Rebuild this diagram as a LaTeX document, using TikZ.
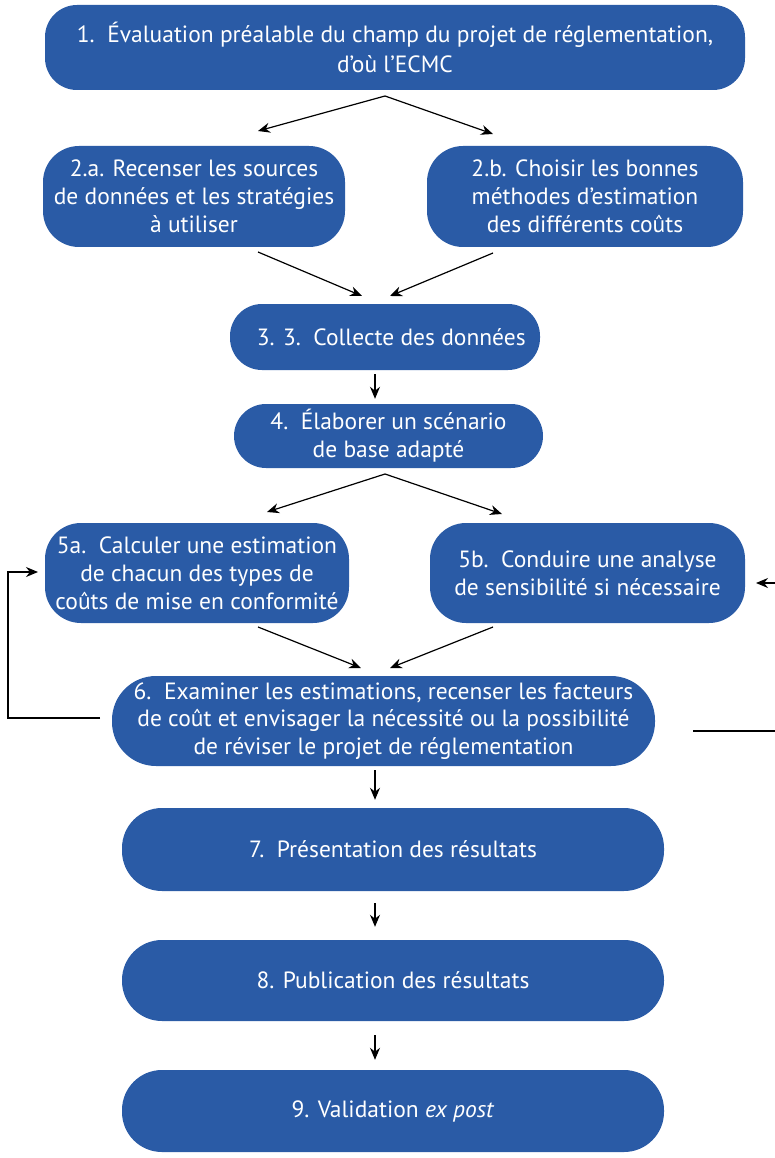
\documentclass[tikz,border=0pt]{standalone}
\usepackage{fontspec}
\setmainfont{PT Sans}
\usetikzlibrary{arrows.meta}
\definecolor{boxblue}{HTML}{2A5BA6}
\tikzset{
  box/.style={fill=boxblue, rounded corners=36pt, inner sep=0pt, text=white, align=center,
    font=\fontsize{23.5}{27.8}\selectfont},
  pill/.style={box, rounded corners=40pt},
  conn/.style={line width=1.2pt, -{Stealth[length=12pt,width=10pt]}},
  plain/.style={line width=1.2pt}
}
\begin{document}
\begin{tikzpicture}[x=1pt,y=-1pt]
\useasboundingbox (0,0) rectangle (775,1158);
\node[box, rounded corners=32pt, minimum width=700pt, minimum height=85pt, font=\fontsize{23.5}{30}\selectfont] (n1) at (395,47.5)
  {1.\ \ Évaluation préalable du champ du projet de réglementation,\\d’où l’ECMC};
\node[box, minimum width=302pt, minimum height=101pt] (n2a) at (194,196.5)
  {2.a. Recenser les sources\\de données et les stratégies\\à utiliser};
\node[box, minimum width=316pt, minimum height=101pt] (n2b) at (585,196.5)
  {2.b. Choisir les bonnes\\méthodes d’estimation\\des différents coûts};
\node[box, rounded corners=32pt, minimum width=310pt, minimum height=66pt] (n3) at (385,337)
  {\ \ 3. 3.\ \ Collecte des données};
\node[box, rounded corners=32pt, minimum width=309pt, minimum height=64pt] (n4) at (388.5,436)
  {4.\ \ Élaborer un scénario\\de base adapté};
\node[box, minimum width=304pt, minimum height=100pt] (n5a) at (197,573)
  {5a.\ \ Calculer une estimation\\de chacun des types de\\coûts de mise en conformité};
\node[box, minimum width=315pt, minimum height=100pt] (n5b) at (587.5,573)
  {5b.\ \ Conduire une analyse\\de sensibilité si nécessaire};
\node[box, rounded corners=44pt, minimum width=543pt, minimum height=90pt] (n6) at (383.5,721)
  {6.\ \ Examiner les estimations, recenser les facteurs\\de coût et envisager la nécessité ou la possibilité\\de réviser le projet de réglementation};
\node[pill, minimum width=542pt, minimum height=83pt] (n7) at (393,849.5)
  {7.\ \ Présentation des résultats};
\node[pill, minimum width=542pt, minimum height=81pt] (n8) at (393,980.5)
  {8. Publication des résultats};
\node[pill, minimum width=542pt, minimum height=82pt] (n9) at (393,1111)
  {9. Validation \textit{ex post}};
% connector ends
\coordinate (s1) at (385,96);
\coordinate (t2a) at (258,131);
\coordinate (t2b) at (493,134);
\coordinate (s2a) at (258,252);
\coordinate (s2b) at (493,253);
\coordinate (t3l) at (362,296);
\coordinate (t3r) at (390,296);
\coordinate (s4) at (385,474);
\coordinate (t5a) at (267,512);
\coordinate (t5b) at (502,514);
\coordinate (s5a) at (258,627);
\coordinate (s5b) at (493,627);
\coordinate (t6l) at (361,668);
\coordinate (t6r) at (390,668);
\coordinate (fl0) at (100,718);
\coordinate (fl1) at (8,718);
\coordinate (fl2) at (8,572);
\coordinate (fl3) at (38,572);
\coordinate (fr0) at (693,731);
\coordinate (fr1) at (775,731);
\coordinate (fr2) at (775,583);
\coordinate (fr3) at (756,583);
\draw[conn] (s1) -- (t2a);
\draw[conn] (s1) -- (t2b);
\draw[conn] (s2a) -- (t3l);
\draw[conn] (s2b) -- (t3r);
\draw[conn, shorten <=4pt, shorten >=5pt] (n3.south -| 375,0) -- (n4.north -| 375,0);
\draw[conn] (s4) -- (t5a);
\draw[conn] (s4) -- (t5b);
\draw[conn] (s5a) -- (t6l);
\draw[conn] (s5b) -- (t6r);
\draw[conn, shorten <=4pt, shorten >=8pt] (n6.south -| 375,0) -- (n7.north -| 375,0);
\draw[conn, shorten <=12pt, shorten >=13pt] (n7.south -| 375,0) -- (n8.north -| 375,0);
\draw[conn, shorten <=14pt, shorten >=10pt] (n8.south -| 375,0) -- (n9.north -| 375,0);
\draw[conn] (fl0) -- (fl1) -- (fl2) -- (fl3);
\draw[plain] (fr0) -- (fr1);
\draw[conn] (fr2) -- (fr3);
\end{tikzpicture}
\end{document}
